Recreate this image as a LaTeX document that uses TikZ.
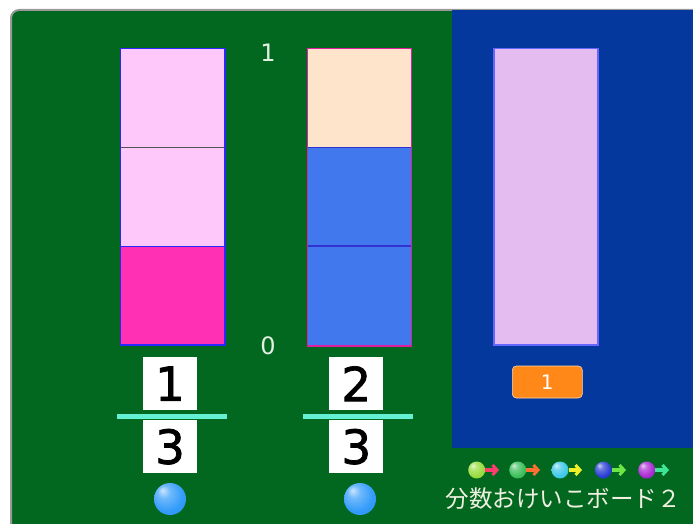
\documentclass[tikz,border=0pt]{standalone}
\usepackage{fontspec}
\setmainfont{DejaVu Sans}
\newfontfamily\jp{Noto Sans CJK JP}
\newfontfamily\dv{DejaVu Sans}
\newfontfamily\dg[FakeBold=1.6]{DejaVu Sans}
\usetikzlibrary{arrows.meta}
\definecolor{board}{RGB}{2,104,32}
\definecolor{panel}{RGB}{4,56,156}
\definecolor{pinkl}{RGB}{255,200,250}
\definecolor{magen}{RGB}{255,48,180}
\definecolor{peach}{RGB}{255,228,204}
\definecolor{bluef}{RGB}{66,120,238}
\definecolor{lilac}{RGB}{228,188,240}
\definecolor{cyanl}{RGB}{100,240,210}
\definecolor{lbl}{RGB}{225,240,225}
\definecolor{orng}{RGB}{255,136,24}
\definecolor{bdblue}{RGB}{40,40,255}
\definecolor{bdmag}{RGB}{225,30,160}
\definecolor{divblue}{RGB}{50,50,210}
\definecolor{sky}{RGB}{50,155,250}
\colorlet{mcol}{sky}
\pgfdeclareradialshading[mcol]{glossy}{\pgfpoint{-12bp}{14bp}}{%
  color(0bp)=(mcol!25!white); color(10bp)=(mcol!70!white); color(26bp)=(mcol);
  color(40bp)=(mcol!92!black); color(50bp)=(mcol!80!black)}
\tikzset{
  cell/.style={line width=1.5pt},
  digitbox/.style={fill=white, minimum width=54pt, minimum height=53pt, inner sep=0pt,
     font=\dg\fontsize{47}{47}\selectfont, text=black},
  scalelbl/.style={text=lbl, font=\dv\fontsize{24}{24}\selectfont, inner sep=0pt},
  gball/.style={circle, minimum size=17pt, inner sep=0pt, /utils/exec={\colorlet{mcol}{#1}}, shading=glossy},
  marr/.style={line width=3.4pt, -{Straight Barb[length=4.5pt,width=10pt,line width=3pt]}},
}
\begin{document}
\begin{tikzpicture}[x=1pt,y=-1pt]
\useasboundingbox (0,0) rectangle (693,524);
\fill[white] (0,0) rectangle (693,524);
% board
\draw[fill=board, draw=gray!80, line width=2pt, rounded corners=8pt] (11,10) rectangle (720,560);
\fill[panel] (452,10.5) rectangle (693,448);
% bar 1 (1/3)
\fill[pinkl] (120.5,48.5) rectangle (225,246);
\fill[magen] (120.5,246) rectangle (225,345);
\draw[gray!30!black!80, line width=1.5pt] (120.5,147.5) -- (225,147.5);
\draw[bdblue, line width=1pt] (120.5,246) -- (225,246);
\draw[bdblue, cell] (120.5,48.5) rectangle (225,345);
% bar 2 (2/3)
\fill[peach] (307.5,48.5) rectangle (411.5,147.5);
\fill[bluef] (307.5,147.5) rectangle (411.5,346);
\draw[divblue, line width=1.5pt] (307.5,147.5) -- (411.5,147.5);
\draw[divblue, line width=1.5pt] (307.5,246) -- (411.5,246);
\draw[bdmag, cell] (307.5,48.5) rectangle (411.5,346);
% scale labels
\node[scalelbl] (one) at (268,53) {1};
\node[scalelbl] (zero) at (268,346) {0};
% bar 3
\draw[fill=lilac, draw=blue!60!white, line width=1.2pt] (494,48.5) rectangle (598,345);
\node[fill=orng, draw=orange!30!white, line width=0.6pt, rounded corners=4pt,
      minimum width=70pt, minimum height=32pt, inner sep=0pt, text=white,
      font=\dv\fontsize{20}{20}\selectfont] (btn) at (547.3,382) {1};
% fraction 1/3
\node[digitbox] (n1) at (170,383.7) {1};
\node[digitbox] (d1) at (170,446.7) {3};
\fill[cyanl] (116.7,414) rectangle (226.7,419.3);
% fraction 2/3
\node[digitbox] (n2) at (356.3,383.7) {2};
\node[digitbox] (d2) at (356.3,446.7) {3};
\fill[cyanl] (303,414) rectangle (413,419.3);
% marbles
\node[gball=sky, minimum size=32pt] (m1) at (170,499) {};
\node[gball=sky, minimum size=32pt] (m2) at (360,499) {};
% logo
\node[gball={rgb,255:red,150;green,220;blue,60}] (b1) at (476.7,470) {};
\node[gball={rgb,255:red,60;green,190;blue,90}] (b2) at (517.7,470) {};
\node[gball={rgb,255:red,60;green,200;blue,230}] (b3) at (560,470) {};
\node[gball={rgb,255:red,40;green,60;blue,210}] (b4) at (603.3,470) {};
\node[gball={rgb,255:red,170;green,40;blue,210}] (b5) at (646.7,470) {};
\coordinate (e1) at (499,470); \coordinate (e2) at (540,470); \coordinate (e3) at (582,470);
\coordinate (e4) at (626,470); \coordinate (e5) at (669,470);
\draw[marr, color={rgb,255:red,255;green,60;blue,110}] (b1.east) -- (e1);
\draw[marr, color={rgb,255:red,255;green,110;blue,50}] (b2.east) -- (e2);
\draw[marr, color={rgb,255:red,240;green,240;blue,40}] (b3.east) -- (e3);
\draw[marr, color={rgb,255:red,110;green,230;blue,70}] (b4.east) -- (e4);
\draw[marr, color={rgb,255:red,60;green,230;blue,150}] (b5.east) -- (e5);
\node[text={rgb,255:red,240;green,240;blue,225}, font=\jp\fontsize{23.5}{24}\selectfont, inner sep=0pt]
   (title) at (563,499) {分数おけいこボード２};
\end{tikzpicture}
\end{document}
